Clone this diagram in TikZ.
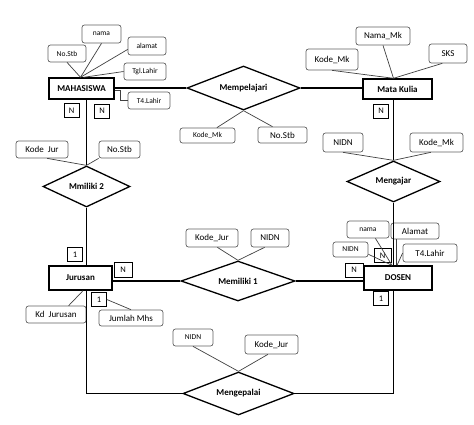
\documentclass[tikz,border=0pt]{standalone}
\usepackage{fontspec}
\setmainfont{Carlito}
\usetikzlibrary{shapes.geometric}

\tikzset{
  entity/.style={draw,line width=1.4pt,inner sep=0pt,font=\bfseries\fontsize{9}{10}\selectfont},
  rel/.style={diamond,draw,line width=1.3pt,inner sep=0pt,aspect=2.6,font=\bfseries\fontsize{9}{10}\selectfont},
  attr/.style={draw=gray!75!black,rounded corners=2.5pt,line width=0.7pt,inner sep=0pt,font=\fontsize{9}{10}\selectfont},
  attrsmall/.style={attr,font=\fontsize{7.5}{8}\selectfont},
  card/.style={draw,line width=0.7pt,inner sep=0pt,minimum width=15,minimum height=14,font=\fontsize{8.5}{9}\selectfont},
  link/.style={line width=1.8pt},
  attrline/.style={draw=gray!50!black,line width=0.7pt}
}

\begin{document}
\begin{tikzpicture}[x=1pt,y=-1pt]
  \useasboundingbox (0,0) rectangle (474,424);
  % Entities
  \node[entity,minimum width=65,minimum height=21] (mhs) at (81.5,88.5) {MAHASISWA};
  \node[entity,minimum width=69,minimum height=20] (mk) at (397.5,89) {Mata Kulia};
  \node[entity,minimum width=63,minimum height=24] (jur) at (80.5,278) {Jurusan};
  \node[entity,minimum width=68,minimum height=24] (dsn) at (398,278) {DOSEN};
  % Relationships
  \node[rel,minimum width=113,minimum height=44] (mplj) at (243.5,88) {Mempelajari};
  \node[rel,minimum width=87,minimum height=41] (mml2) at (86.5,186.5) {Mmiliki 2};
  \node[rel,minimum width=93,minimum height=41] (mgj) at (393.5,181.5) {Mengajar};
  \node[rel,minimum width=114,minimum height=40] (mml1) at (238,281) {Memiliki 1};
  \node[rel,minimum width=111,minimum height=43] (mgp) at (238.5,393.5) {Mengepalai};
  % Attributes of MAHASISWA
  \node[attrsmall,minimum width=38,minimum height=17] (mhsstb) at (67,53.5) {No.Stb};
  \node[attrsmall,minimum width=39,minimum height=18] (mhsnama) at (101.5,34) {nama};
  \node[attrsmall,minimum width=38,minimum height=18] (mhsalamat) at (147,46) {alamat};
  \node[attrsmall,minimum width=42,minimum height=17] (mhstgl) at (145,71.5) {Tgl.Lahir};
  \node[attrsmall,minimum width=42,minimum height=17] (mhstempat) at (149,100.5) {T4.Lahir};
  % Attributes of Mata Kulia
  \node[attr,minimum width=54,minimum height=18] (mknama) at (383,36) {Nama\_Mk};
  \node[attr,minimum width=52,minimum height=21] (mkkode) at (332,59.5) {Kode\_Mk};
  \node[attr,minimum width=38,minimum height=19] (mksks) at (448,53.5) {SKS};
  % Attributes of relationships
  \node[attrsmall,minimum width=55,minimum height=15] (mpljkode) at (207.5,135.5) {Kode\_Mk};
  \node[attr,minimum width=49,minimum height=16] (mpljstb) at (282.5,135) {No.Stb};
  \node[attr,minimum width=52,minimum height=17] (mml2jur) at (42,149.5) {Kode~ Jur};
  \node[attr,minimum width=41,minimum height=17] (mml2stb) at (119.5,149.5) {No.Stb};
  \node[attr,minimum width=40,minimum height=19] (mgjnidn) at (343,142.5) {NIDN};
  \node[attr,minimum width=53,minimum height=19] (mgjkode) at (436.5,142.5) {Kode\_Mk};
  \node[attr,minimum width=52,minimum height=18] (mml1jur) at (212,238) {Kode\_Jur};
  \node[attr,minimum width=38,minimum height=18] (mml1nidn) at (270,238) {NIDN};
  \node[attrsmall,minimum width=40,minimum height=17] (mgpnidn) at (193,337.5) {NIDN};
  \node[attr,minimum width=53,minimum height=19] (mgpjur) at (271.5,344.5) {Kode\_Jur};
  % Attributes of Jurusan
  \node[attr,minimum width=60,minimum height=17] (jurkd) at (56,314.5) {Kd~ Jurusan};
  \node[attr,minimum width=64,minimum height=16] (jurjml) at (131,318) {Jumlah Mhs};
  % Attributes of DOSEN
  \node[attrsmall,minimum width=42,minimum height=17] (dsnnama) at (368,229.5) {nama};
  \node[attr,minimum width=48,minimum height=16] (dsnalamat) at (415,231) {Alamat};
  \node[attrsmall,minimum width=35,minimum height=15] (dsnnidn) at (350.5,249.5) {NIDN};
  \node[attr,minimum width=54,minimum height=18] (dsnt4) at (430,253) {T4.Lahir};
  % Cardinalities
  \node[card] (mhsn1) at (71.5,110.5) {N};
  \node[card] (mhsn2) at (102,111) {N};
  \node[card] (mkn) at (381,111) {N};
  \node[card] (jur1a) at (75,254.5) {1};
  \node[card,minimum width=18,minimum height=15] (jurn) at (123,269.5) {N};
  \node[card] (jur1b) at (99,299.5) {1};
  \node[card,minimum width=17] (dsnn1) at (382.5,255.5) {N};
  \node[card,minimum width=18] (dsnn2) at (354,270) {N};
  \node[card] (dsn1) at (381,298.5) {1};
  % Relationship links
  \draw[link] (mhs.east |- mplj.west) -- (mplj.west);
  \draw[link] (mplj.east) -- (mk.west |- mplj.east);
  \draw[link] (mml2.north |- mhs.south) -- (mml2.north);
  \draw[link] (mml2.south) -- (mml2.south |- jur.north);
  \draw[link] (mml2.south |- jur.south) -- (mml2.south |- mgp.west) -- (mgp.west);
  \draw[link] (mgp.east) -- (mgj.south |- mgp.east) -- (mgj.south |- dsn.south);
  \draw[link] (mgj.north |- mk.south) -- (mgj.north);
  \draw[link] (mgj.south) -- (mgj.south |- dsn.north);
  \draw[link] (jur.east |- mml1.west) -- (mml1.west);
  \draw[link] (mml1.east) -- (dsn.west |- mml1.east);
  % Attribute lines
  \foreach \a in {mhsstb,mhsnama}
    {\draw[attrline] (\a.south) -- ([xshift=-1]mhs.north);}
  \draw[attrline] (mhsalamat.190) -- ([xshift=-1]mhs.north);
  \draw[attrline] (mhstgl.west) -- ([xshift=2]mhs.north);
  \draw[attrline] ([yshift=-2]mhs.east) -- ++(6,0) |- (mhstempat.west);
  \foreach \a in {mknama,mkkode}
    {\draw[attrline] (\a.south) -- ([xshift=-4]mk.north);}
  \draw[attrline] (mksks.240) -- ([xshift=-4]mk.north);
  \draw[attrline] (mpljkode.40) -- (mplj.south);
  \draw[attrline] (mpljstb.140) -- (mplj.south);
  \draw[attrline] (mml2jur.-60) -- (mml2.north);
  \draw[attrline] (mml2stb.south west) -- (mml2.north);
  \draw[attrline] (mgjnidn.south) -- (mgj.north);
  \draw[attrline] (mgjkode.240) -- (mgj.north);
  \draw[attrline] (mml1jur.-60) -- (mml1.north);
  \draw[attrline] (mml1nidn.240) -- (mml1.north);
  \draw[attrline] (mgpnidn.south) -- (mgp.north);
  \draw[attrline] (mgpjur.250) -- (mgp.north);
  \draw[attrline] (jurkd.35) -- ([xshift=2.5]jur.south);
  \draw[attrline] (jur1b.east) -- (jurjml.north);
  \draw[attrline] (dsnnama.-50) -- ([xshift=-6]dsn.north);
  \draw[attrline] (dsnnidn.-15) -- ([xshift=-6]dsn.north);
  \draw[attrline] (dsnt4.west) -- ([xshift=-1]dsn.north);
  \draw[attrline] ([xshift=6]dsnalamat.south west) -- ([xshift=6]dsnalamat.south west |- dsn.north);
\end{tikzpicture}
\end{document}
